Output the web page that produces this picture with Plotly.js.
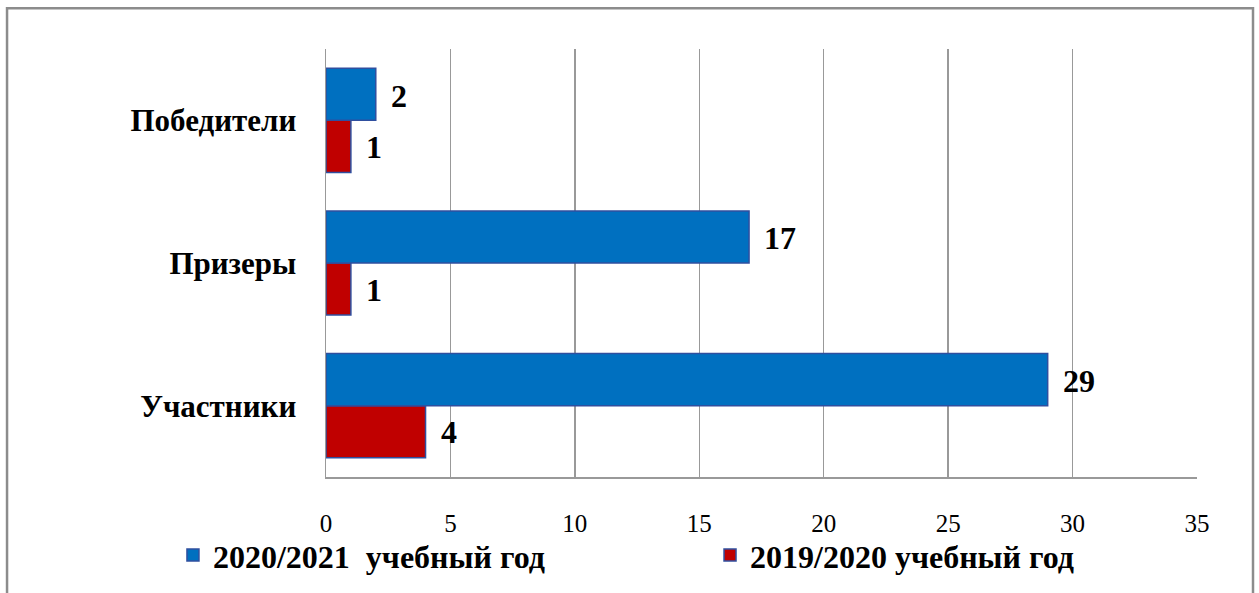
<!DOCTYPE html>
<html>
<head>
<meta charset="utf-8">
<script src="https://cdn.plot.ly/plotly-3.0.1.min.js"></script>
<style>html,body{margin:0;padding:0;background:#fff;}#chart{width:1259px;height:593px;}</style>
</head>
<body>
<div id="chart"></div>
<script>
const categories = ['Участники', 'Призеры', 'Победители'];
const series2020 = [29, 17, 2];
const series2019 = [4, 1, 1];
const name2020 = '2020/2021\u00a0\u00a0учебный год';
const name2019 = '2019/2020 учебный год';
const xTicks = [0, 5, 10, 15, 20, 25, 30, 35];

const font = 'Liberation Serif, Times New Roman, serif';

const traces = [
  {
    type: 'bar', orientation: 'h', name: name2019, legend: 'legend2',
    y: categories, x: series2019,
    marker: {color: '#C00000', line: {color: '#2F4F9F', width: 1.5}},
    hoverinfo: 'none'
  },
  {
    type: 'bar', orientation: 'h', name: name2020, legend: 'legend',
    y: categories, x: series2020,
    marker: {color: '#0070C0', line: {color: '#2F4F9F', width: 1.5}},
    hoverinfo: 'none'
  }
];

const labelFont = {family: font, size: 32, color: '#000', weight: 'bold'};
const annotations = [];
categories.forEach((c, i) => {
  annotations.push({x: series2020[i], y: i + 0.18, xref: 'x', yref: 'y', text: String(series2020[i]),
    showarrow: false, xanchor: 'left', xshift: 13, yshift: -1, font: labelFont});
  annotations.push({x: series2019[i], y: i - 0.18, xref: 'x', yref: 'y', text: String(series2019[i]),
    showarrow: false, xanchor: 'left', xshift: 13, yshift: -1, font: labelFont});
});

const legendFont = {family: font, size: 32, color: '#000', weight: 'bold'};
const layout = {
  width: 1259, height: 593,
  margin: {l: 326, r: 62, t: 49, b: 115},
  paper_bgcolor: '#fff', plot_bgcolor: '#fff',
  barmode: 'group', bargap: 0.27, bargroupgap: 0,
  showlegend: true,
  legend: {
    orientation: 'h', x: -0.1757, y: -0.18, xanchor: 'left', yanchor: 'middle',
    font: legendFont, bgcolor: 'rgba(0,0,0,0)'
  },
  legend2: {
    orientation: 'h', x: 0.4409, y: -0.18, xanchor: 'left', yanchor: 'middle',
    font: legendFont, bgcolor: 'rgba(0,0,0,0)'
  },
  xaxis: {
    range: [0, 35], tickvals: xTicks, ticktext: xTicks.map(String),
    showgrid: true, gridcolor: '#999', gridwidth: 1.5,
    zeroline: false, showline: true, linecolor: '#999', linewidth: 1.5,
    ticks: '', ticklabelstandoff: 23,
    tickfont: {family: font, size: 25, color: '#000'},
    fixedrange: true
  },
  yaxis: {
    type: 'category', categoryorder: 'array', categoryarray: categories,
    showgrid: false, zeroline: false, showline: true, linecolor: '#999', linewidth: 1.5,
    ticks: '', ticklabelstandoff: 22,
    tickfont: {family: font, size: 31, color: '#000', weight: 'bold'},
    fixedrange: true
  },
  annotations: annotations,
  shapes: [{
    type: 'rect', xref: 'paper', yref: 'paper',
    x0: -0.3662, x1: 1.0643, y0: -0.35, y1: 1.0953,
    line: {color: '#8c8c8c', width: 2.5}, fillcolor: 'rgba(0,0,0,0)', layer: 'below'
  }]
};

Plotly.newPlot('chart', traces, layout, {displayModeBar: false, staticPlot: true});
</script>
</body>
</html>
